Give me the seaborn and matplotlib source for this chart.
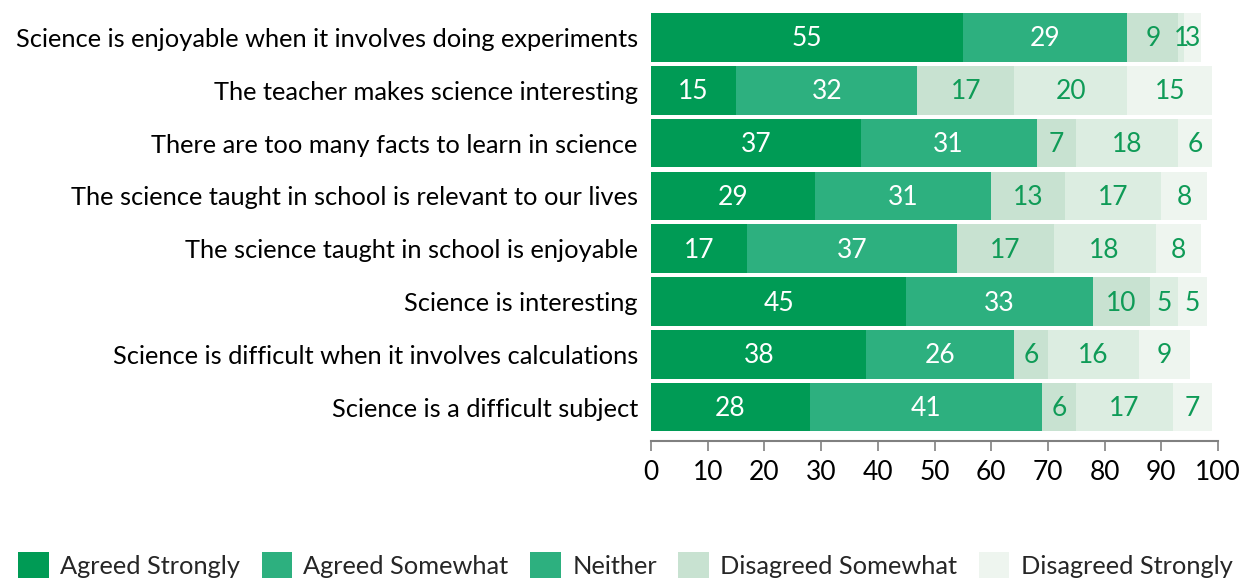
import matplotlib
matplotlib.use("Agg")
import matplotlib.pyplot as plt
import seaborn as sns
import pandas as pd
from matplotlib.patches import Patch

statements = [
    "Science is enjoyable when it involves doing experiments",
    "The teacher makes science interesting",
    "There are too many facts to learn in science",
    "The science taught in school is relevant to our lives",
    "The science taught in school is enjoyable",
    "Science is interesting",
    "Science is difficult when it involves calculations",
    "Science is a difficult subject",
]
agreed_strongly = [55, 15, 37, 29, 17, 45, 38, 28]
agreed_somewhat = [29, 32, 31, 31, 37, 33, 26, 41]
neither = [9, 17, 7, 13, 17, 10, 6, 6]
disagreed_somewhat = [1, 20, 18, 17, 18, 5, 16, 17]
disagreed_strongly = [3, 15, 6, 8, 8, 5, 9, 7]

series_names = ["Agreed Strongly", "Agreed Somewhat", "Neither",
                "Disagreed Somewhat", "Disagreed Strongly"]
bar_colors = ["#009b55", "#2db07f", "#c8e2d1", "#dcede1", "#eef5ef"]
legend_colors = ["#009b55", "#2db07f", "#2db07f", "#c8e2d1", "#eef5ef"]
label_colors = ["white", "white", "#0f9b57", "#0f9b57", "#0f9b57"]

df = pd.DataFrame({
    "statement": statements,
    "Agreed Strongly": agreed_strongly,
    "Agreed Somewhat": agreed_somewhat,
    "Neither": neither,
    "Disagreed Somewhat": disagreed_somewhat,
    "Disagreed Strongly": disagreed_strongly,
})
cum = df[series_names].cumsum(axis=1)

sns.set_theme(style="white")
plt.rcParams["font.family"] = ["Lato", "DejaVu Sans"]

fig = plt.figure(figsize=(12.42, 5.80), dpi=100)
ax = fig.add_axes([651 / 1242, 1 - 441 / 580, (1218 - 651) / 1242, (441 - 11) / 580])

# layered cumulative bars, widest first
for i in reversed(range(len(series_names))):
    sns.barplot(x=cum[series_names[i]], y=df["statement"], orient="h",
                color=bar_colors[i], width=0.92, saturation=1, linewidth=0,
                edgecolor="none", ax=ax)

for i, name in enumerate(series_names):
    for j in range(len(df)):
        v = df[name].iloc[j]
        ax.text(cum[name].iloc[j] - v / 2, j + 0.03, str(v), ha="center", va="center",
                color=label_colors[i], fontsize=19)

ax.set_xlim(0, 100)
ax.set_ylim(7.64, -0.5)
ax.set_xticks(range(0, 101, 10))
ax.set_xlabel("")
ax.set_ylabel("")
sns.despine(ax=ax, left=True)
ax.spines["bottom"].set_color("#808080")
ax.spines["bottom"].set_linewidth(1.5)
ax.tick_params(axis="x", bottom=True, length=7, width=1.2, color="#808080",
               labelsize=19, pad=7, labelcolor="black")
ax.tick_params(axis="y", left=False, labelsize=18.3, pad=3.5, labelcolor="black")

handles = [Patch(facecolor=c, edgecolor="none") for c in legend_colors]
fig.legend(handles, series_names, loc="upper left",
           bbox_to_anchor=(18 / 1242, 1 - 552 / 580),
           ncol=5, frameon=False, fontsize=18.3, handlelength=1.2, handleheight=1.2,
           handletextpad=0.45, columnspacing=0.85, borderaxespad=0, borderpad=0)

fig.savefig("out.png", dpi=100)
